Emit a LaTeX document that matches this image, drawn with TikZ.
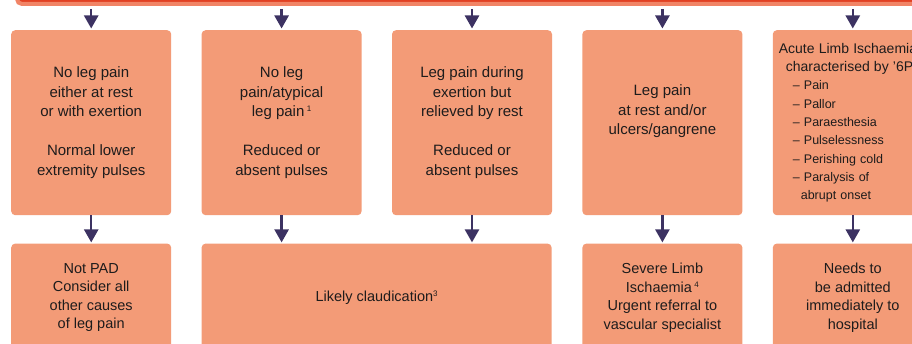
\documentclass[tikz,border=0pt]{standalone}
\usepackage{fontspec}
\setmainfont{Liberation Sans}
\definecolor{BarRed}{RGB}{226,64,34}
\definecolor{BarEdge}{RGB}{241,132,102}
\definecolor{Salmon}{RGB}{243,155,119}
\definecolor{ArrowNavy}{RGB}{60,50,98}
\definecolor{TextGrey}{RGB}{30,28,28}
\newcommand{\fnmark}[1]{\raisebox{5pt}{\fontsize{8}{8}\selectfont #1}}
\usetikzlibrary{shapes,arrows.meta,positioning,calc}

\begin{document}
\begin{tikzpicture}[
    x=1pt, y=1pt,
    node distance=30pt,
    box/.style={rectangle, rounded corners=4pt, fill=Salmon, text=TextGrey, minimum width=160pt, align=center, inner sep=0pt},
    upper/.style={box, minimum height=185pt, font=\fontsize{15}{19.5}\selectfont},
    lower/.style={box, minimum height=108pt, font=\fontsize{14.5}{18.5}\selectfont},
    arrow/.style={-{Triangle[width=14pt,length=13pt]}, line width=2.5pt, ArrowNavy}
  ]
    \useasboundingbox (0,0) rectangle (912,-344);
    \node[rectangle, rounded corners=5pt, draw=BarEdge, line width=4pt, fill=BarRed, minimum width=950pt, minimum height=40pt, anchor=south west] (bar) at (15,-6) {};

    \node[upper, anchor=north west] (nopain) at (11,-30) {No leg pain\\either at rest\\or with exertion\\[19.5pt]Normal lower\\extremity pulses};
    \node[upper, right=of nopain] (atypical) {No leg\\pain/atypical\\leg pain\,\fnmark{1}\\[19.5pt]Reduced or\\absent pulses};
    \node[upper, right=of atypical] (exertion) {Leg pain during\\exertion but\\relieved by rest\\[19.5pt]Reduced or\\absent pulses};
    \node[upper, right=of exertion] (restpain) {Leg pain\\at rest and/or\\ulcers/gangrene\\\strut};
    \node[upper, right=of restpain, align=left, text width=148pt, font=\fontsize{12.5}{18.3}\selectfont] (acute) {{\fontsize{14}{18.3}\selectfont Acute Limb Ischaemia}\\
      \hspace*{7pt}{\fontsize{14}{18.3}\selectfont characterised by '6P's'}\\
      \hspace*{14pt}– Pain\\
      \hspace*{14pt}– Pallor\\
      \hspace*{14pt}– Paraesthesia\\
      \hspace*{14pt}– Pulselessness\\
      \hspace*{14pt}– Perishing cold\\
      \hspace*{14pt}– Paralysis of\\
      \hspace*{22pt}abrupt onset};

    \node[lower, below=28pt of nopain] (notpad) {Not PAD\\Consider all\\other causes\\of leg pain};
    \node[lower, minimum width=350pt, anchor=north west] (claud) at ([yshift=-28pt]atypical.south west) {Likely claudication\fnmark{3}};
    \node[lower, below=28pt of restpain] (severe) {Severe Limb\\Ischaemia\,\fnmark{4}\\Urgent referral to\\vascular specialist};
    \node[lower, below=28pt of acute] (admit) {Needs to\\be admitted\\immediately to\\hospital};

    \draw[arrow, shorten <=3pt, shorten >=1.5pt] (bar.south -| nopain.north) -- (nopain.north);
    \draw[arrow, shorten <=3pt, shorten >=1.5pt] (bar.south -| atypical.north) -- (atypical.north);
    \draw[arrow, shorten <=3pt, shorten >=1.5pt] (bar.south -| exertion.north) -- (exertion.north);
    \draw[arrow, shorten <=3pt, shorten >=1.5pt] (bar.south -| restpain.north) -- (restpain.north);
    \draw[arrow, shorten <=3pt, shorten >=1.5pt] (bar.south -| acute.north) -- (acute.north);

    \draw[arrow, shorten >=1pt] (nopain) -- (notpad);
    \draw[arrow, shorten >=1pt] (atypical.south) -- (atypical.south |- claud.north);
    \draw[arrow, shorten >=1pt] (exertion.south) -- (exertion.south |- claud.north);
    \draw[arrow, shorten >=1pt] (restpain) -- (severe);
    \draw[arrow, shorten >=1pt] (acute) -- (admit);
  \end{tikzpicture}
\end{document}
